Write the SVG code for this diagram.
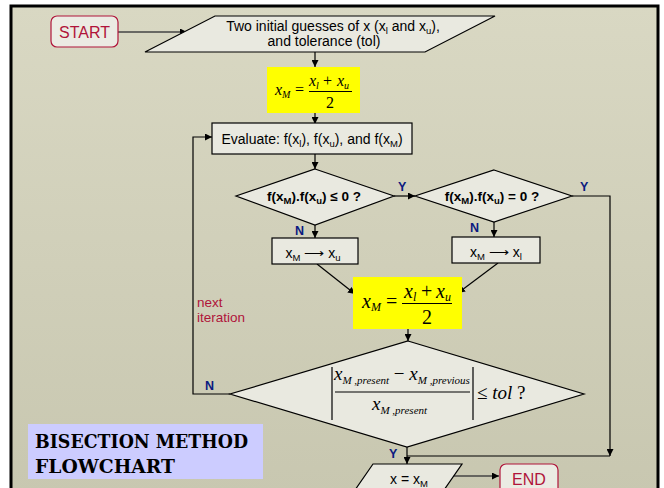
<svg xmlns="http://www.w3.org/2000/svg" width="664" height="488" viewBox="0 0 664 488">
<defs>
<linearGradient id="bg" x1="0" y1="0" x2="0" y2="1">
<stop offset="0" stop-color="#d9d8c3"/>
<stop offset="1" stop-color="#c8c7b0"/>
</linearGradient>
<marker id="ah" viewBox="0 0 10 10" refX="10" refY="5" markerWidth="7" markerHeight="7" markerUnits="userSpaceOnUse" orient="auto">
<path d="M0,0 L10,5 L0,10 z" fill="#000"/>
</marker>
<style>
.shape{fill:#e9e9e0;stroke:#000;stroke-width:1.2}
.term{fill:#ebebe3;stroke:#b0143a;stroke-width:1.2}
.yel{fill:#ffff00}
.c{fill:none;stroke:#000;stroke-width:1.2}
.cg{fill:none;stroke:#444;stroke-width:1.5}
.t{font-family:"Liberation Sans",Arial,sans-serif;font-size:14px;fill:#000}
.b{font-family:"Liberation Sans",Arial,sans-serif;font-size:13.5px;font-weight:bold;fill:#000}
.lab{font-family:"Liberation Sans",Arial,sans-serif;font-size:12.5px;font-weight:bold;fill:#0a1a80}
.red{font-family:"Liberation Sans",Arial,sans-serif;fill:#b0143a}
.m{font-family:"Liberation Serif","Times New Roman",serif;font-style:italic;fill:#000}
.mn{font-family:"Liberation Serif","Times New Roman",serif;fill:#000}
.title{font-family:"DejaVu Serif",serif;font-weight:bold;font-size:19px;fill:#000}
</style>
</defs>
<rect x="0" y="0" width="664" height="488" fill="#ffffff"/>
<rect x="11" y="6" width="647" height="490" fill="url(#bg)" stroke="#000" stroke-width="3"/>

<g id="connectors">
<line class="cg" x1="118" y1="32" x2="187" y2="32" marker-end="url(#ah)"/>
<line class="c" x1="315" y1="52" x2="315" y2="67" marker-end="url(#ah)"/>
<line class="c" x1="315" y1="113" x2="315" y2="124" marker-end="url(#ah)"/>
<line class="c" x1="315" y1="154" x2="315" y2="169" marker-end="url(#ah)"/>
<line class="c" x1="394" y1="196" x2="415" y2="196" marker-end="url(#ah)"/>
<line class="c" x1="315" y1="225" x2="315" y2="238" marker-end="url(#ah)"/>
<line class="c" x1="494" y1="222" x2="494" y2="237" marker-end="url(#ah)"/>
<line class="c" x1="317" y1="264" x2="355" y2="294" marker-end="url(#ah)"/>
<line class="c" x1="498" y1="263" x2="458" y2="293" marker-end="url(#ah)"/>
<line class="c" x1="408" y1="329" x2="408" y2="341" marker-end="url(#ah)"/>
<polyline class="c" points="230,394 193,394 193,137 212,137" marker-end="url(#ah)"/>
<polyline class="c" points="572,196 610,196 610,456" marker-end="url(#ah)"/>
<line class="c" x1="407" y1="456" x2="610" y2="456"/>
<line class="c" x1="407" y1="447" x2="407" y2="464" marker-end="url(#ah)"/>
<line class="cg" x1="448" y1="476" x2="499" y2="476" marker-end="url(#ah)"/>
</g>

<g id="start">
<rect class="term" x="51" y="16" width="67" height="31" rx="6"/>
<text class="red" x="84.5" y="38" font-size="16" text-anchor="middle">START</text>
</g>

<g id="input">
<polygon class="shape" points="215,16 495,16 425,52 145,52"/>
<text class="t" x="333" y="31" text-anchor="middle">Two initial guesses of x (x<tspan font-size="9.5" dy="3">l</tspan><tspan dy="-3"> and x</tspan><tspan font-size="9.5" dy="3">u</tspan><tspan dy="-3">),</tspan></text>
<text class="t" x="324" y="46" text-anchor="middle">and tolerance (tol)</text>
</g>

<g id="mid1">
<rect class="yel" x="267" y="67" width="93" height="46"/>
<text class="m" x="275" y="95" font-size="16">x<tspan font-size="10" dy="3">M</tspan></text>
<text class="mn" x="295" y="95" font-size="16">=</text>
<line x1="309" y1="91.5" x2="352" y2="91.5" stroke="#000" stroke-width="1"/>
<text class="m" x="309" y="86" font-size="16">x<tspan font-size="10" dy="3">l</tspan></text>
<text class="mn" x="323" y="86" font-size="16">+</text>
<text class="m" x="337" y="86" font-size="16">x<tspan font-size="10" dy="3">u</tspan></text>
<text class="mn" x="330" y="108" font-size="16" text-anchor="middle">2</text>
</g>

<g id="evaluate">
<rect class="shape" x="212" y="123" width="200" height="31"/>
<text class="t" x="312" y="144" text-anchor="middle">Evaluate: f(x<tspan font-size="9.5" dy="3">l</tspan><tspan dy="-3">), f(x</tspan><tspan font-size="9.5" dy="3">u</tspan><tspan dy="-3">), and f(x</tspan><tspan font-size="9.5" dy="3">M</tspan><tspan dy="-3">)</tspan></text>
</g>

<g id="dec1">
<polygon class="shape" points="315,169 394,196 315,225 236,196"/>
<text class="b" x="314" y="201" text-anchor="middle">f(x<tspan font-size="9.5" dy="3">M</tspan><tspan dy="-3">).f(x</tspan><tspan font-size="9.5" dy="3">u</tspan><tspan dy="-3">) ≤ 0 ?</tspan></text>
</g>

<g id="dec2">
<polygon class="shape" points="494,170 572,196 494,222 415,196"/>
<text class="b" x="492" y="201" text-anchor="middle">f(x<tspan font-size="9.5" dy="3">M</tspan><tspan dy="-3">).f(x</tspan><tspan font-size="9.5" dy="3">u</tspan><tspan dy="-3">) = 0 ?</tspan></text>
</g>

<g id="box1">
<rect class="shape" x="272" y="238" width="86" height="26"/>
<text class="t" x="313" y="258" text-anchor="middle">x<tspan font-size="9.5" dy="3">M</tspan><tspan dy="-3"> ⟶ x</tspan><tspan font-size="9.5" dy="3">u</tspan></text>
</g>

<g id="box2">
<rect class="shape" x="452" y="237" width="88" height="26"/>
<text class="t" x="496" y="257" text-anchor="middle">x<tspan font-size="9.5" dy="3">M</tspan><tspan dy="-3"> ⟶ x</tspan><tspan font-size="9.5" dy="3">l</tspan></text>
</g>

<g id="mid2">
<rect class="yel" x="353" y="277" width="109" height="52"/>
<text class="m" x="362" y="308" font-size="20">x<tspan font-size="12" dy="3">M</tspan></text>
<text class="mn" x="386" y="308" font-size="20">=</text>
<line x1="402" y1="303.5" x2="452" y2="303.5" stroke="#000" stroke-width="1.2"/>
<text class="m" x="404" y="298" font-size="20">x<tspan font-size="12" dy="3">l</tspan></text>
<text class="mn" x="421" y="298" font-size="20">+</text>
<text class="m" x="436" y="298" font-size="20">x<tspan font-size="12" dy="3">u</tspan></text>
<text class="mn" x="427" y="324" font-size="20" text-anchor="middle">2</text>
</g>

<g id="dec3">
<polygon class="shape" points="408,341 584,394 407,447 230,394"/>
<line x1="332" y1="367" x2="332" y2="420" stroke="#000" stroke-width="1.2"/>
<line x1="473" y1="367" x2="473" y2="420" stroke="#000" stroke-width="1.2"/>
<line x1="335" y1="392" x2="470" y2="392" stroke="#000" stroke-width="1.2"/>
<text class="m" x="334" y="380" font-size="19">x<tspan font-size="11" dy="4">M ,present</tspan><tspan class="mn" font-style="normal" font-size="19" dy="-4"> − </tspan><tspan font-size="19">x</tspan><tspan font-size="11" dy="4">M ,previous</tspan></text>
<text class="m" x="372" y="410" font-size="19">x<tspan font-size="11" dy="4">M ,present</tspan></text>
<text class="mn" x="477" y="399" font-size="19">≤<tspan font-style="italic"> tol</tspan> ?</text>
</g>

<g id="output">
<polygon class="shape" points="373,464 462,464 444,490 355,490"/>
<text class="t" x="409" y="484" text-anchor="middle">x = x<tspan font-size="9.5" dy="3">M</tspan></text>
</g>

<g id="end">
<rect class="term" x="500" y="464" width="58" height="30" rx="6"/>
<text class="red" x="529" y="485" font-size="16" text-anchor="middle">END</text>
</g>

<g id="labels">
<text class="lab" x="398" y="191">Y</text>
<text class="lab" x="580" y="191">Y</text>
<text class="lab" x="295" y="235">N</text>
<text class="lab" x="470" y="232">N</text>
<text class="lab" x="205" y="390">N</text>
<text class="lab" x="389" y="458">Y</text>
<text class="red" x="197" y="307" font-size="13.5">next</text>
<text class="red" x="197" y="322" font-size="13.5">iteration</text>
</g>

<g id="title">
<rect x="28" y="424" width="235" height="55" fill="#ccccff"/>
<text class="title" x="35" y="448" textLength="213" lengthAdjust="spacingAndGlyphs">BISECTION METHOD</text>
<text class="title" x="35" y="473" textLength="140" lengthAdjust="spacingAndGlyphs">FLOWCHART</text>
</g>
</svg>
